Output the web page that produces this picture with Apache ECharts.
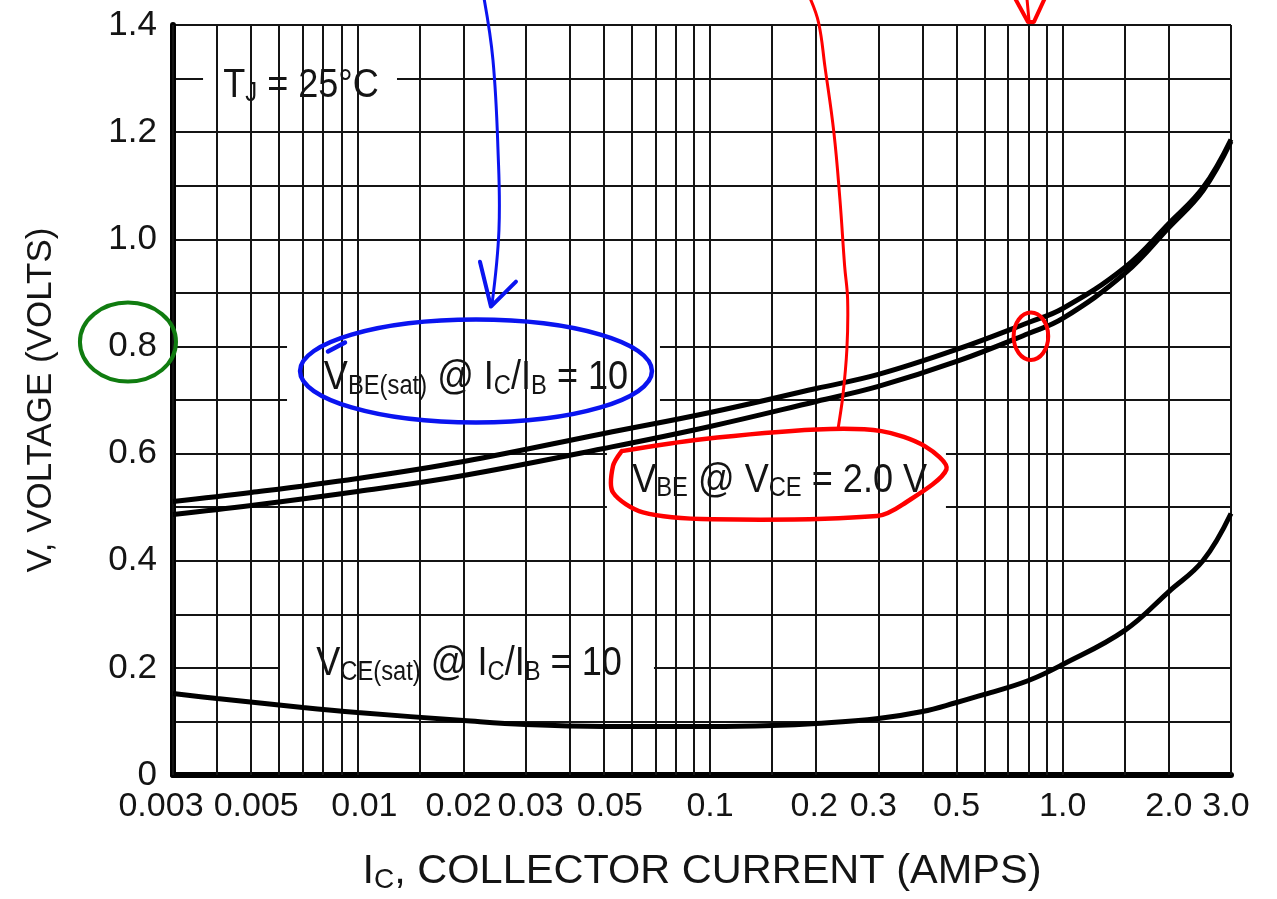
<!DOCTYPE html>
<html><head><meta charset="utf-8">
<script src="https://cdn.jsdelivr.net/npm/echarts@6/dist/echarts.min.js"></script>
<style>html,body{margin:0;padding:0;background:#fff;}#c{width:1277px;height:899px;}</style>
</head><body><div id="c"></div>
<script>
// ---- data ----
const currents = [0.003, 0.005, 0.01, 0.02, 0.05, 0.1, 0.2, 0.3, 0.5, 0.8, 1.0, 1.5, 2.0, 2.5, 3.0];
const vbeSat   = [0.5105, 0.5273, 0.5535, 0.5852, 0.6375, 0.6767, 0.7215, 0.7477, 0.7943, 0.8447, 0.8708, 0.9473, 1.0295, 1.0966, 1.1863];
const vbeOn    = [0.4863, 0.5031, 0.5292, 0.5590, 0.6095, 0.6506, 0.6973, 0.7253, 0.7719, 0.8242, 0.8522, 0.9362, 1.0221, 1.0912, 1.1825];
const vceCurrents = [0.003, 0.004, 0.007, 0.01, 0.02, 0.03, 0.05, 0.1, 0.15, 0.2, 0.3, 0.4, 0.5, 0.6, 0.8, 1.0, 1.5, 2.0, 2.5, 3.0];
const vceSat      = [0.1521, 0.1428, 0.1260, 0.1167, 0.1018, 0.0943, 0.0906, 0.0906, 0.0924, 0.0962, 0.1055, 0.1185, 0.1353, 0.1503, 0.1764, 0.2063, 0.2700, 0.3425, 0.4004, 0.4882];
const xGridValues = [0.003,0.004,0.005,0.006,0.007,0.008,0.009,0.01,0.015,0.02,0.03,0.04,0.05,0.06,0.07,0.08,0.09,0.1,0.15,0.2,0.3,0.4,0.5,0.6,0.7,0.8,0.9,1.0,1.5,2.0,3.0];
const xLabelValues = [0.003,0.005,0.01,0.02,0.03,0.05,0.1,0.2,0.3,0.5,1.0,2.0,3.0];
const yTickValues = [0, 0.2, 0.4, 0.6, 0.8, 1.0, 1.2, 1.4];

// text labels: centre [current, voltage] and white box corners
const textLabels = [
  {text:'{n|T}{s|J}{n| = 25°C}', pos:[0.00692,1.287], box:[[0.00365,1.3535],[0.01295,1.2379]]},
  {text:'{n|V}{s|BE(sat)}{n| @ I}{s|C}{n|/I}{s|B}{n| = 10}', pos:[0.02169,0.7412], box:[[0.006316,0.8128],[0.0721,0.6808]]},
  {text:'{n|V}{s|BE}{n| @ V}{s|CE}{n| = 2.0 V}', pos:[0.1575,0.5500], box:[[0.0510,0.6227],[0.4665,0.4940]]},
  {text:'{n|V}{s|CE(sat)}{n| @ I}{s|C}{n|/I}{s|B}{n| = 10}', pos:[0.02072,0.2079], box:[[0.006033,0.2950],[0.06933,0.1454]]}
];

// hand-drawn annotation strokes, in data coordinates [current A, voltage V]
const blueArrowLine = [[0.02285,1.4504],[0.02423,1.3348],[0.02504,1.1670],[0.0252,1.0179],[0.02407,0.8781]];
const blueArrowHead = [[0.02226,0.9582],[0.02391,0.8744],[0.02816,0.9210]];
const blueEllipseBox = [[0.006876,0.8501],[0.06843,0.6581]];
const blueTail = [[0.008252,0.7905],[0.009221,0.8073]];
const redLine = [[0.1920,1.4504],[0.2032,1.4038],[0.2117,1.3223],[0.2245,1.1987],[0.2335,1.0738],[0.2408,0.9495],[0.2455,0.8874],[0.2443,0.7942],[0.2373,0.7009],[0.2305,0.6450]];
const redLoop = [[0.05616,0.6046],[0.0936,0.6264],[0.2003,0.6450],[0.3062,0.6419],[0.4062,0.6139],[0.4680,0.5705],[0.3523,0.5052],[0.2972,0.4834],[0.1016,0.4773],[0.06454,0.4903],[0.05305,0.5276],[0.05305,0.5766],[0.05616,0.6046]];
const redMarkBox = [[0.7257,0.8632],[0.9096,0.7748]];
const redTopMark = [[0.7317,1.4504],[0.7968,1.4057],[0.8286,1.4057],[0.8903,1.4504]];
const redTopTick = [[0.7914,1.4504],[0.8020,1.4094]];
const greenBox = [[0.001634,0.8818],[0.003059,0.7345]];

// ---- styling ----
const FONT = '"Liberation Sans","Helvetica","Arial",sans-serif';
const INK = '#141414';
const xLabelNudge = {0.003:-12, 0.005:5, 0.01:7, 0.02:-5, 0.03:5, 0.05:6, 0.2:-2, 0.3:-5, 3.0:-5};

const chart = echarts.init(document.getElementById('c'), null, {renderer:'canvas', width:1277, height:899});
const fmtX = v => v >= 1 ? v.toFixed(1) : String(v);
const pairs = (xs, ys) => xs.map((x, i) => [x, ys[i]]);
const curveStyle = {color:'#000', width:5};

const option = {
  animation: false,
  backgroundColor: '#fff',
  grid: {left:173, top:25, width:1058, height:750},
  xAxis: {
    type:'log', logBase:10, min:0.003, max:3,
    axisLine:{show:true, onZero:false, lineStyle:{color:'#000', width:6}},
    axisTick:{show:false}, axisLabel:{show:false},
    splitLine:{show:false}, minorSplitLine:{show:false},
    name:'{n|I}{s|C}{n|, COLLECTOR CURRENT (AMPS)}',
    nameLocation:'middle', nameGap:75,
    nameTextStyle:{color:INK, rich:{
      n:{fontSize:41.5, lineHeight:44, fontFamily:FONT, color:INK},
      s:{fontSize:28, lineHeight:14, verticalAlign:'bottom', fontFamily:FONT, color:INK}
    }}
  },
  yAxis: {
    type:'value', min:0, max:1.4, interval:0.2,
    axisLine:{show:true, lineStyle:{color:'#000', width:6}},
    axisTick:{show:false},
    axisLabel:{formatter: v => { const t = yTickValues.find(k => Math.abs(k - v) < 1e-9); return t === 0 ? '0' : (t !== undefined ? t.toFixed(1) : ''); },
      fontSize:35, fontFamily:FONT, color:INK, margin:16},
    splitLine:{show:true, lineStyle:{color:INK, width:2}},
    minorTick:{show:false, splitNumber:2},
    minorSplitLine:{show:true, lineStyle:{color:INK, width:2}},
    name:'V, VOLTAGE (VOLTS)', nameLocation:'middle', nameGap:114,
    nameTextStyle:{fontSize:35, fontFamily:FONT, color:INK}
  },
  series: [
    {type:'line', name:'grid', data:[], z:1, silent:true,
      markLine:{silent:true, symbol:['none','none'], animation:false, precision:6,
        lineStyle:{color:INK, width:2, type:'solid'},
        label:{show:false}, emphasis:{disabled:true},
        data: xGridValues.map(v => ({xAxis:v}))
      }},
    {type:'scatter', name:'xTickLabels', z:2, silent:true, clip:false,
      symbol:'circle', symbolSize:0, itemStyle:{color:INK, opacity:1},
      label:{show:true, position:'bottom', distance:15, fontSize:34, lineHeight:34, fontFamily:FONT, color:INK,
        formatter: p => fmtX(p.value[0])},
      emphasis:{disabled:true},
      data: xLabelValues.map(v => ({value:[v, 0], label:{offset:[xLabelNudge[v] || 0, 0]}}))
    },
    {type:'line', name:'VBE(sat) @ IC/IB = 10', data:pairs(currents, vbeSat), smooth:0.4, showSymbol:false, lineStyle:curveStyle, z:5},
    {type:'line', name:'VBE @ VCE = 2.0 V', data:pairs(currents, vbeOn), smooth:0.4, showSymbol:false, lineStyle:curveStyle, z:5},
    {type:'line', name:'VCE(sat) @ IC/IB = 10', data:pairs(vceCurrents, vceSat), smooth:0.4, showSymbol:false, lineStyle:curveStyle, z:5}
  ]
};
chart.setOption(option);

const P = d => chart.convertToPixel({gridIndex:0}, d);
const boxOf = b => { const a = P(b[0]), c = P(b[1]); return {x:Math.min(a[0],c[0]), y:Math.min(a[1],c[1]), width:Math.abs(c[0]-a[0]), height:Math.abs(c[1]-a[1])}; };
const ellOf = b => { const r = boxOf(b); return {cx:r.x + r.width/2, cy:r.y + r.height/2, rx:r.width/2, ry:r.height/2}; };
const rich = {
  n:{fontSize:41, lineHeight:44, fontFamily:FONT, fill:INK},
  s:{fontSize:27, lineHeight:14, verticalAlign:'bottom', fontFamily:FONT, fill:INK}
};
const graphics = [];
textLabels.forEach(t => {
  graphics.push({type:'rect', z:3, silent:true, shape:boxOf(t.box), style:{fill:'#fff'}});
  const p = P(t.pos);
  graphics.push({type:'text', z:4, silent:true, x:p[0], y:p[1], scaleX:0.88,
    style:{text:t.text, x:0, y:0, align:'center', verticalAlign:'middle', rich:rich, fill:INK}});
});
const ink = (color, w) => ({stroke:color, lineWidth:w, fill:null, lineCap:'round', lineJoin:'round'});
const BLUE = '#0a14f0', RED = '#ff0000', GREEN = '#107c10';
graphics.push({type:'polyline', z:10, silent:true, shape:{points:blueArrowLine.map(P), smooth:0.4}, style:ink(BLUE,3)});
graphics.push({type:'polyline', z:10, silent:true, shape:{points:blueArrowHead.map(P)}, style:ink(BLUE,4)});
graphics.push({type:'ellipse', z:10, silent:true, shape:ellOf(blueEllipseBox), style:ink(BLUE,4.5)});
graphics.push({type:'polyline', z:10, silent:true, shape:{points:blueTail.map(P)}, style:ink(BLUE,4.5)});
graphics.push({type:'polyline', z:10, silent:true, shape:{points:redLine.map(P), smooth:0.4}, style:ink(RED,3)});
graphics.push({type:'polyline', z:10, silent:true, shape:{points:redLoop.map(P), smooth:0.3}, style:ink(RED,4.5)});
graphics.push({type:'ellipse', z:10, silent:true, shape:ellOf(redMarkBox), style:ink(RED,4)});
graphics.push({type:'polyline', z:10, silent:true, shape:{points:redTopMark.map(P)}, style:ink(RED,4)});
graphics.push({type:'polyline', z:10, silent:true, shape:{points:redTopTick.map(P)}, style:ink(RED,3)});
graphics.push({type:'ellipse', z:10, silent:true, shape:ellOf(greenBox), style:ink(GREEN,4)});
chart.setOption({graphic:{elements:graphics}});
</script></body></html>
